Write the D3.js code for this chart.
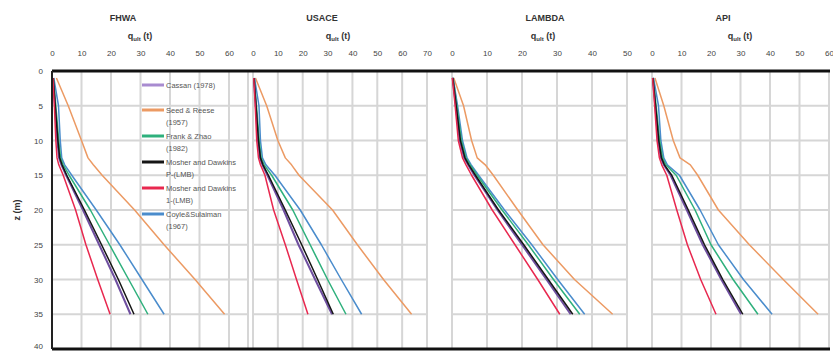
<!DOCTYPE html>
<html><head><meta charset="utf-8">
<script src="https://cdn.jsdelivr.net/npm/d3@7"></script>
<style>
body{margin:0;background:#fff}
svg{display:block}
text{font-family:"Liberation Sans",Arial,sans-serif}
</style>
</head><body>
<svg id="c" width="833" height="351"></svg>
<script>
// ---------- DATA ----------
const depths = [1, 5, 10, 12.5, 13.5, 15, 20, 25, 30, 35];
const depthTicks = [0, 5, 10, 15, 20, 25, 30, 35, 40];
const methodNames = ["FHWA", "USACE", "LAMBDA", "API"];
const seriesNames = ["Cassan (1978)", "Seed & Reese (1957)", "Frank & Zhao (1982)",
  "Mosher and Dawkins P-(LMB)", "Mosher and Dawkins 1-(LMB)", "Coyle&Sulaiman (1967)"];
const legendLines = [["Cassan (1978)"], ["Seed & Reese", "(1957)"], ["Frank & Zhao", "(1982)"],
  ["Mosher and Dawkins", " P-(LMB)"], ["Mosher and Dawkins", " 1-(LMB)"], ["Coyle&Sulaiman", "(1967)"]];

const fhwaTicks = [0, 10, 20, 30, 40, 50, 60];
const usaceTicks = [0, 10, 20, 30, 40, 50, 60, 70];
const lambdaTicks = [0, 10, 20, 30, 40, 50];
const apiTicks = [0, 10, 20, 30, 40, 50, 60];

// series order: purple, orange, green, black, red, blue (same as legend)
const fhwaQ = [
  [0.4, 1.0, 1.8, 2.4, 3.2, 4.8, 10.5, 16.0, 21.5, 26.6],
  [1.5, 5.5, 10.0, 12.2, 14.0, 17.0, 28.0, 38.0, 48.5, 58.5],
  [0.5, 1.3, 2.3, 2.9, 3.8, 5.8, 13.0, 19.5, 26.0, 32.5],
  [0.4, 1.1, 2.0, 2.6, 3.4, 5.0, 11.0, 16.8, 22.5, 27.8],
  [0.3, 0.8, 1.3, 1.7, 2.3, 3.8, 8.0, 11.5, 15.5, 19.7],
  [0.6, 2.2, 2.8, 3.3, 4.3, 6.7, 15.0, 23.0, 30.5, 38.0]
];
const usaceQ = [
  [0.4, 1.1, 2.0, 2.8, 3.8, 5.8, 12.3, 18.3, 25.0, 31.8],
  [1.0, 5.5, 10.0, 13.0, 15.5, 18.5, 32.0, 42.0, 52.5, 63.8],
  [0.5, 1.4, 2.5, 3.3, 4.5, 7.5, 16.0, 23.0, 30.0, 37.4],
  [0.4, 1.2, 2.2, 3.0, 4.0, 6.2, 13.0, 19.6, 26.0, 32.3],
  [0.3, 0.9, 1.5, 2.2, 3.0, 4.8, 8.3, 13.0, 17.5, 22.1],
  [0.6, 2.4, 3.0, 3.8, 5.2, 8.8, 19.0, 27.5, 35.5, 43.7]
];
const lambdaQ = [
  [0.2, 1.1, 2.2, 3.5, 4.6, 6.4, 13.0, 20.0, 27.0, 33.9],
  [0.5, 3.3, 5.6, 7.2, 9.5, 11.8, 18.8, 26.0, 35.0, 45.9],
  [0.3, 1.4, 2.7, 4.0, 5.2, 7.2, 14.3, 21.8, 29.0, 36.5],
  [0.2, 1.2, 2.4, 3.7, 4.8, 6.7, 13.3, 20.5, 27.5, 34.5],
  [0.1, 0.9, 1.8, 3.0, 4.0, 5.6, 11.5, 18.0, 24.5, 30.8],
  [0.3, 1.6, 3.0, 4.3, 5.5, 7.6, 15.0, 22.8, 30.2, 37.9]
];
const apiQ = [
  [0.3, 1.1, 2.1, 3.0, 4.0, 6.3, 11.8, 17.2, 23.5, 30.2],
  [1.0, 4.0, 7.2, 9.5, 13.0, 15.5, 22.5, 33.0, 44.5, 56.3],
  [0.4, 1.4, 2.6, 3.6, 4.7, 8.2, 14.6, 20.0, 27.5, 35.9],
  [0.3, 1.2, 2.3, 3.2, 4.2, 6.7, 12.3, 17.8, 24.0, 30.8],
  [0.2, 0.9, 1.7, 2.5, 3.3, 5.0, 8.4, 12.0, 16.5, 21.7],
  [0.5, 2.2, 3.0, 4.0, 5.2, 9.3, 16.3, 22.5, 31.0, 40.7]
];

// ---------- STYLE / LAYOUT ----------
const colors = ["#6f4fa0", "#ec9a63", "#2eb07c", "#151515", "#e8284f", "#4a8ccc"];
const drawOrder = [1, 5, 2, 0, 3, 4];
const panels = [
  {ticks: fhwaTicks, q: fhwaQ, x0: 52, xMaxTick: 229, right: 248, title: 123, sub: 140},
  {ticks: usaceTicks, q: usaceQ, x0: 253, xMaxTick: 427, right: 427, title: 322, sub: 338},
  {ticks: lambdaTicks, q: lambdaQ, x0: 452, xMaxTick: 627, right: 627, title: 545, sub: 543},
  {ticks: apiTicks, q: apiQ, x0: 652, xMaxTick: 829, right: 829, title: 723, sub: 740}
];
const yTop = 71, yBot = 349;

const svg = d3.select("#c");
const y = d3.scaleLinear().domain([0, 40]).range([yTop, yBot]);

panels.forEach((p, i) => {
  const x = d3.scaleLinear().domain([0, d3.max(p.ticks)]).range([p.x0, p.xMaxTick]);
  const g = svg.append("g");
  g.selectAll("line.h").data(depthTicks.filter(d => d > 0 && d < 40)).join("line")
    .attr("x1", p.x0).attr("x2", p.right).attr("y1", d => y(d)).attr("y2", d => y(d))
    .attr("stroke", "#d6d6d6").attr("stroke-width", 2);
  g.selectAll("line.v").data(p.ticks).join("line")
    .attr("x1", d => x(d)).attr("x2", d => x(d)).attr("y1", yTop).attr("y2", yBot)
    .attr("stroke", "#d6d6d6").attr("stroke-width", 2);
  if (p.right > p.xMaxTick + 1) {
    g.append("line").attr("x1", p.right).attr("x2", p.right).attr("y1", yTop).attr("y2", yBot)
      .attr("stroke", "#d6d6d6").attr("stroke-width", 2);
  }
  const ax = g.append("g").attr("transform", `translate(0,${yTop})`)
    .call(d3.axisTop(x).tickValues(p.ticks).tickSize(0).tickPadding(15).tickFormat(d3.format("d")));
  ax.select(".domain").remove();
  ax.selectAll("text").attr("font-size", 8).attr("fill", "#444")
    .attr("font-family", "Liberation Sans, Arial, sans-serif");
  g.append("text").attr("x", p.title).attr("y", 21).attr("text-anchor", "middle")
    .attr("font-size", 9).attr("font-weight", "bold").attr("fill", "#333").text(methodNames[i]);
  const st = g.append("text").attr("x", p.sub).attr("y", 39).attr("text-anchor", "middle")
    .attr("font-size", 9).attr("font-weight", "bold").attr("fill", "#333");
  st.append("tspan").text("q");
  st.append("tspan").attr("font-size", 6).attr("dy", 2).text("ult");
  st.append("tspan").attr("dy", -2).text(" (t)");
  const line = d3.line().x(d => x(d[0])).y(d => y(d[1]));
  drawOrder.forEach(s => {
    g.append("path").datum(p.q[s].map((v, k) => [v, depths[k]]))
      .attr("d", line).attr("fill", "none").attr("stroke", colors[s])
      .attr("stroke-width", s === 0 ? 2 : 1.5).attr("stroke-linejoin", "round");
  });
});

svg.append("line").attr("x1", 52).attr("x2", 830).attr("y1", yTop).attr("y2", yTop)
  .attr("stroke", "#111").attr("stroke-width", 3);
svg.append("line").attr("x1", 52).attr("x2", 830).attr("y1", yBot).attr("y2", yBot)
  .attr("stroke", "#111").attr("stroke-width", 3);
svg.append("line").attr("x1", 52).attr("x2", 52).attr("y1", yTop).attr("y2", yBot)
  .attr("stroke", "#222").attr("stroke-width", 2);

const yax = svg.append("g").attr("transform", `translate(52,0)`)
  .call(d3.axisLeft(y).tickValues(depthTicks).tickSize(0).tickPadding(9).tickFormat(d3.format("d")));
yax.select(".domain").remove();
yax.selectAll("text").attr("font-size", 8).attr("fill", "#444")
  .attr("font-family", "Liberation Sans, Arial, sans-serif");
yax.selectAll(".tick").filter(d => d === 40).select("text").attr("dy", "-0.05em");
svg.append("text").attr("transform", "translate(20,210) rotate(-90)").attr("text-anchor", "middle")
  .attr("font-size", 9).attr("font-weight", "bold").attr("fill", "#333").text("z (m)");

const legY = [85, 110, 136, 162, 188, 214];
const leg = svg.append("g");
legendLines.forEach((lines, i) => {
  leg.append("line").attr("x1", 142).attr("x2", 164).attr("y1", legY[i]).attr("y2", legY[i])
    .attr("stroke", i === 0 ? "#a88bd0" : colors[i]).attr("stroke-width", 3);
  lines.forEach((t, k) => {
    leg.append("text").attr("x", 166).attr("y", legY[i] + 2.5 + k * 12)
      .attr("font-size", 7.5).attr("fill", "#555").text(t);
  });
});
</script>
</body></html>
